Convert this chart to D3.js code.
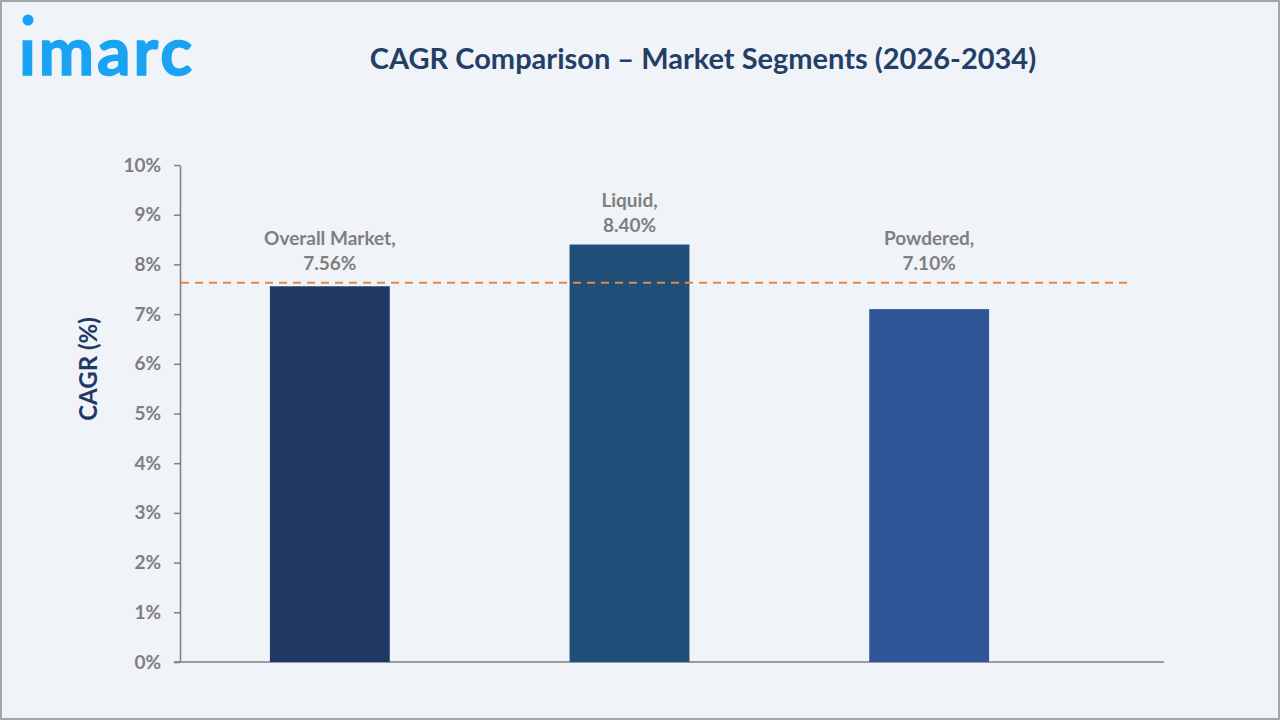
<!DOCTYPE html>
<html><head><meta charset="utf-8">
<script src="https://cdn.jsdelivr.net/npm/d3@7"></script>
<style>
html,body{margin:0;padding:0;background:#F0F3F8;}
svg{display:block;}
</style></head>
<body>
<script>
const categories = ["Overall Market", "Liquid", "Powdered"];
const values = [7.56, 8.40, 7.10];
const valueLabels = ["7.56%", "8.40%", "7.10%"];
const barColors = ["#203864", "#1F4E79", "#2F5597"];
const yTicks = [0,1,2,3,4,5,6,7,8,9,10];
const referenceValue = 7.63;
const titleText = "CAGR Comparison \u2013 Market Segments (2026-2034)";
const yAxisTitle = "CAGR (%)";

const W = 1280, H = 720;
const FONT = "Lato, 'Open Sans', sans-serif";
const svg = d3.select("body").append("svg").attr("width", W).attr("height", H);

svg.append("rect").attr("x",1).attr("y",1).attr("width",W-2).attr("height",H-2)
  .attr("fill","#F0F3F8").attr("stroke","#A6A6A6").attr("stroke-width",2);

// logo
svg.append("circle").attr("cx",28).attr("cy",20).attr("r",5.5).attr("fill","#1AA3F3");
svg.append("text").attr("x",19).attr("y",75).text("\u0131marc")
  .attr("font-family",FONT).attr("font-weight",700)
  .attr("font-size",66).attr("fill","#1AA3F3").attr("stroke","#1AA3F3").attr("stroke-width",1.5)
  .attr("letter-spacing",3);

// title
svg.append("text").attr("x",703).attr("y",69).attr("text-anchor","middle").text(titleText)
  .attr("font-family",FONT).attr("font-weight",700)
  .attr("font-size",29).attr("fill","#243F66");

const y = d3.scaleLinear().domain([0,10]).range([662,165]);
const x = d3.scaleBand().domain(categories).range([180,1079]).paddingInner(0.6).paddingOuter(0.3);

// y axis
const yAxis = d3.axisLeft(y).tickValues(yTicks).tickFormat(d => d + "%").tickSize(6).tickSizeOuter(0);
const gy = svg.append("g").attr("transform","translate(180,0)").call(yAxis);
gy.select(".domain").attr("stroke","#7F7F7F").attr("stroke-width",1.5);
gy.selectAll(".tick line").attr("stroke","#7F7F7F").attr("stroke-width",1.5);
gy.selectAll(".tick text").attr("fill","#7F7F7F").attr("font-family",FONT)
  .attr("font-weight",700).attr("font-size",19).attr("x",-19);

// x axis line
svg.append("line").attr("x1",174).attr("x2",1164).attr("y1",y(0)).attr("y2",y(0))
  .attr("stroke","#7F7F7F").attr("stroke-width",1.5);

// bars
svg.selectAll("rect.bar").data(categories).join("rect").attr("class","bar")
  .attr("x", d => x(d)).attr("width", x.bandwidth())
  .attr("y", (d,i) => y(values[i])).attr("height", (d,i) => y(0) - y(values[i]))
  .attr("fill", (d,i) => barColors[i]);

// reference line
svg.append("line").attr("x1",181).attr("x2",1130).attr("y1",y(referenceValue)).attr("y2",y(referenceValue))
  .attr("stroke","#E08A4A").attr("stroke-width",2).attr("stroke-dasharray","8,6");

// labels (placed above the higher of bar top and reference line)
const lab = svg.selectAll("g.lab").data(categories).join("g").attr("class","lab")
  .attr("transform",(d,i)=>`translate(${x(d)+x.bandwidth()/2},${Math.min(y(values[i]), y(referenceValue)) - 13})`);
lab.append("text").attr("y",-25).attr("text-anchor","middle").text(d => d + ",")
  .attr("fill","#7F7F7F").attr("font-family",FONT)
  .attr("font-weight",700).attr("font-size",19);
lab.append("text").attr("y",0).attr("text-anchor","middle").text((d,i) => valueLabels[i])
  .attr("fill","#7F7F7F").attr("font-family",FONT)
  .attr("font-weight",700).attr("font-size",19);

// y axis title
svg.append("text").attr("transform","translate(97,369) rotate(-90)").attr("text-anchor","middle")
  .text(yAxisTitle).attr("fill","#1F3864").attr("font-family",FONT)
  .attr("font-weight",700).attr("font-size",24);
</script>
</body></html>
